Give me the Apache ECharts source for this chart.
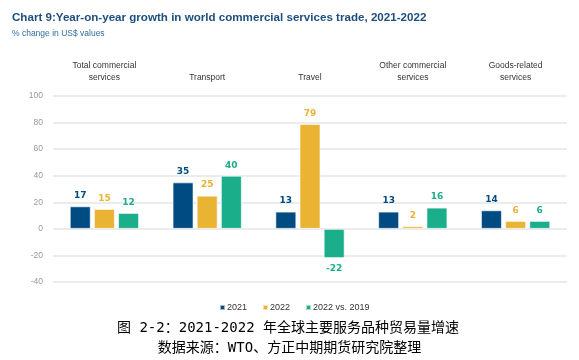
<!DOCTYPE html>
<html><head><meta charset="utf-8">
<script src="https://cdn.jsdelivr.net/npm/echarts@6/dist/echarts.min.js"></script>
<style>html,body{margin:0;padding:0;background:#fff}#c{width:579px;height:360px}</style>
</head><body><div id="c"></div>
<script>
var categories = ['Total commercial\nservices','Transport','Travel','Other commercial\nservices','Goods-related\nservices'];
var s2021 = [17, 35, 13, 13, 14];
var s2022 = [15, 25, 79, 2, 6];
var s2022vs2019 = [12, 40, -22, 16, 6];
var seriesNames = ['2021','2022','2022 vs. 2019'];
var colors = ['#004b82','#e9b334','#1bae8a'];
var yTicks = {min:-40, max:100, interval:20};

var chart = echarts.init(document.getElementById('c'));
function mk(name, data, color){
  return {
    name: name, type: 'bar', data: data, barWidth: 21, barGap: '15%',
    itemStyle: {color: color, borderColor: 'rgba(255,255,255,0.6)', borderWidth: 1},
    label: {show: true, position: 'top', distance: 6, color: color, fontWeight: 'bold',
      fontSize: 9, fontFamily: 'DejaVu Sans'},
    emphasis: {disabled: true}
  };
}
var series = [mk(seriesNames[0], s2021, colors[0]), mk(seriesNames[1], s2022, colors[1]), mk(seriesNames[2], s2022vs2019, colors[2])];
series[2].data = s2022vs2019.map(function(v){ return v < 0 ? {value: v, label: {position: 'bottom'}} : v; });
var cap = {fontSize: 14, fontWeight: 'normal', color: '#000', fontFamily: "'DejaVu Sans Mono', 'Noto Sans CJK SC'"};
chart.setOption({
  animation: false,
  title: [
    {text: 'Chart 9:Year-on-year growth in world commercial services trade, 2021-2022', left: 7, top: 7,
     textStyle: {fontSize: 11.6, fontWeight: 'bold', color: '#1d4e7e', fontFamily: 'Liberation Sans'}},
    {text: '% change in US$ values', left: 7, top: 24,
     textStyle: {fontSize: 8.5, fontWeight: 'normal', color: '#2f6ea3', fontFamily: 'Liberation Sans'}},
    {text: '图 2-2：2021-2022 年全球主要服务品种贸易量增速', left: 112, top: 316, textStyle: cap},
    {text: '数据来源：WTO、方正中期期货研究院整理', left: 'center', top: 336, textStyle: cap}
  ],
  legend: {
    data: seriesNames, left: 214, top: 298, itemWidth: 5, itemHeight: 5, itemGap: 15,
    icon: 'rect', textStyle: {fontSize: 9, color: '#333', fontFamily: 'Liberation Sans', padding: [0,0,0,-3]}
  },
  grid: {left: 53, right: 12, top: 96, bottom: 78},
  xAxis: {
    type: 'category', data: categories, position: 'top',
    axisLine: {show: false}, axisTick: {show: false},
    axisLabel: {interval: 0, margin: 12, fontSize: 8.5, color: '#333', lineHeight: 12, fontFamily: 'Liberation Sans'}
  },
  yAxis: {
    type: 'value', min: yTicks.min, max: yTicks.max, interval: yTicks.interval,
    axisLine: {show: false}, axisTick: {show: false},
    axisLabel: {fontSize: 8.5, color: '#999', margin: 10, fontFamily: 'Liberation Sans'},
    splitLine: {lineStyle: {color: '#e6e6e6', width: 1.5}}
  },
  series: series
});
</script></body></html>
